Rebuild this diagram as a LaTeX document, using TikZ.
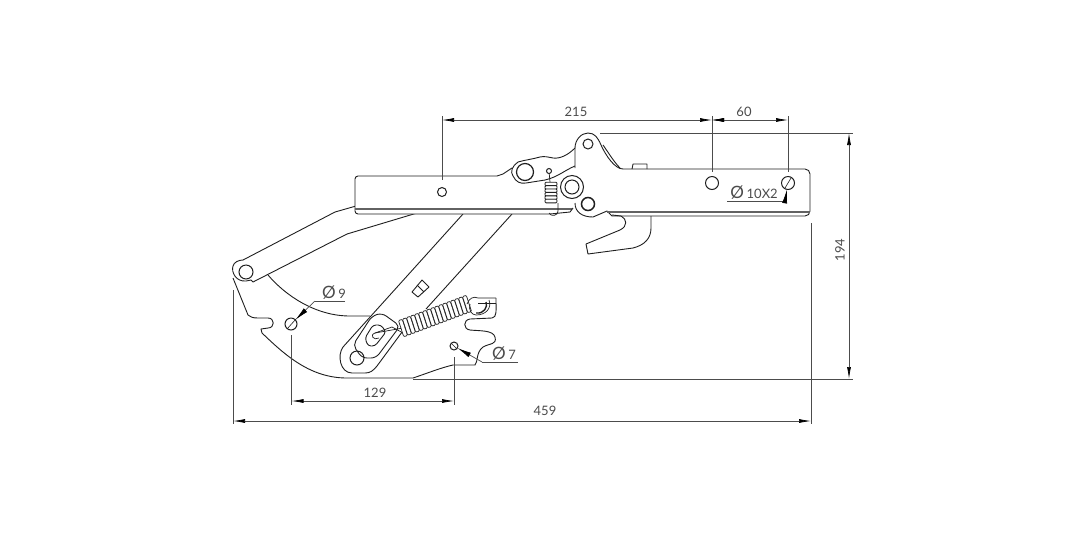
\documentclass[tikz,border=0pt]{standalone}
\usepackage{fontspec}
\setmainfont{Lato}
\usetikzlibrary{arrows.meta,calc}
\definecolor{inkc}{gray}{0.12}
\definecolor{dimc}{gray}{0.3}
\tikzset{
  part/.style={draw=inkc, line width=.9pt, line join=round},
  rail/.style={draw=inkc!70, line width=1.7pt},
  hole/.style={circle, draw=inkc, line width=1pt, inner sep=0pt, outer sep=0pt},
  coil/.style={draw=inkc, fill=white, line width=.7pt, rounded corners=1pt, inner sep=0pt, outer sep=0pt},
  ext/.style={draw=dimc, line width=.7pt},
  dim/.style={ext, {Latex[length=12pt,width=4pt,black]}-{Latex[length=12pt,width=4pt,black]}},
  dimtip/.style={ext, -{Latex[length=12pt,width=4pt,black]}},
  lead/.style={ext, -{Latex[length=14pt,width=5pt,black]}},
  lbl/.style={font=\fontsize{13}{14}\selectfont, text=inkc!80, inner sep=0pt}
}
\newcommand{\phisign}{\fontsize{17}{17}\selectfont Ø\,\fontsize{13}{14}\selectfont}

\begin{document}
\begin{tikzpicture}[x=1pt, y=-1pt]
\useasboundingbox (0,0) rectangle (1075,558);

% lower plate
\draw[part] (233,278) -- (248,315) .. controls (250,317) and (253,318) .. (258,318) -- (268,318)
  .. controls (275,318) and (275,328) .. (268,328) -- (261,329) -- (262,333)
  .. controls (285,355) and (310,378) .. (347,378) -- (413,378)
  .. controls (428,373) and (440,368) .. (453,365) -- (475,365)
  .. controls (478,362) and (476,352) .. (483,347)
  .. controls (490,343) and (497,345) .. (495,337)
  .. controls (493,330) and (480,331) .. (470,330)
  .. controls (463,329) and (463,320) .. (470,319) -- (492,318)
  .. controls (497,317) and (496,312) .. (496,298);
\draw[part] (268,275) .. controls (285,295) and (315,316) .. (350,316) -- (370,316);

% upper arm
\draw[part] (356,206) -- (335,212) -- (243,260);
\draw[part] (417,213) -- (347,234) -- (253,282) -- (251,280) -- (246,281) .. controls (236,282) and (231,272) .. (233,266) .. controls (234,262) and (239,260) .. (243,260);
\node[hole, minimum size=14pt] (armpin) at (246,272) {};

% long link
\draw[part] (463,214) -- (343,347) .. controls (337,355) and (340,373) .. (352,373) -- (365,373) .. controls (370,373) and (373,371) .. (377,366) -- (405,328);
\draw[part] (512,214) -- (426,309);
\node[hole, minimum size=14pt] (linkpin) at (357,358) {};
\draw[part, rounded corners=5pt] (382,313) -- (400,326) -- (376,358) -- (362,358) -- (353,345) -- (372,316) -- cycle;
\draw[part, rounded corners=3pt] (373,325) -- (381,325) -- (386,332) -- (375,346) -- (368,346) -- (365,338) -- cycle;
\draw[part, fill=white] (412,292) -- (422,280) -- (429,287) -- (418,297) -- cycle;
\draw[part] (417,285) -- (424,292);

% left bar
\draw[part, fill=white, rounded corners=3pt] (497,176) -- (355,176) -- (355,214) -- (550,214);
\draw[rail] (355,209) -- (572,209);
\draw[part] (497,176) -- (503,174) -- (512,168);
\draw[part] (550,214) -- (570,212) -- (573,208);
\node[hole, minimum size=9pt] (h215) at (442,192) {};

% lobe at the joint
\draw[part] (575,148) .. controls (568,155) and (560,159) .. (553,158) .. controls (548,157) and (544,156) .. (540,157)
  .. controls (533,159) and (525,160) .. (518,162) .. controls (512,166) and (510,172) .. (513,176)
  .. controls (516,182) and (520,184) .. (526,183) -- (545,180) .. controls (558,177) and (565,170) .. (575,166);
\node[hole, minimum size=17pt, line width=1.2pt] (lobepin) at (525,172) {};
\node[hole, minimum size=5pt] (sprpin) at (549,171) {};

% small spring
\draw[part, line width=.7pt] (sprpin) -- (550,182);
\foreach \i in {0,...,5}
  \node[coil, minimum width=12pt, minimum height=3.6pt, line width=.9pt] (sc\i) at (551,184+\i*3.4) {};
\draw[part, line width=.7pt] (558,203) -- (558,211) .. controls (558,216) and (551,217) .. (549,213);

% right plate
\draw[part] (575,168) -- (575,148) .. controls (575,140) and (581,133) .. (588,133)
  .. controls (595,133) and (598,138) .. (601,145) .. controls (606,156) and (615,169) .. (623,169);
\draw[part] (603,145) .. controls (608,152) and (614,162) .. (620,168);
\draw[part] (575,203) .. controls (575,212) and (582,217) .. (593,217) -- (607,211) -- (612,216);
\node[hole, minimum size=23pt, fill=white] (midring) at (572,187) {};
\node[hole, minimum size=14pt] (midpin) at (572,187) {};
\node[hole, minimum size=10pt] (toppin) at (588,144) {};
\node[hole, minimum size=13pt, line width=1.5pt] (lowpin) at (588,204) {};

% right bar
\draw[part, rounded corners=5pt] (623,169) -- (810,169) -- (810,216) -- (612,216);
\draw[rail] (607,212) -- (810,212);
\draw[part] (632,169) -- (633,164) -- (647,164) -- (647,169);
\node[hole, minimum size=13pt] (h60a) at (712,183) {};
\node[hole, minimum size=13pt] (h60b) at (788,183) {};

% hook
\draw[part] (612,215) -- (621,216) .. controls (627,219) and (628,226) .. (620,230) -- (586,244) -- (588,254) -- (633,248)
  .. controls (645,245) and (651,238) .. (651,228) -- (651,216);

% big spring
\coordinate (sprA) at (403,328);
\coordinate (sprB) at (467,304);
\draw[part, line width=.7pt] (sprA) -- (375,333) .. controls (369,335) and (374,341) .. (379,338);
\draw[part, line width=.7pt] (405,334) -- (392,327) -- (375,333);
\foreach \i in {0,...,16}
  \node[coil, minimum width=4pt, minimum height=17pt, rotate=18] (bc\i) at ($(sprA)!\i/16!(sprB)$) {};
\draw[part, line width=.7pt] (sprB) .. controls (469,298) and (474,296) .. (478,298) -- (496,298);
\draw[part, line width=.7pt] (478,303) -- (496,303);
\draw[part, line width=1.4pt] (486,302) .. controls (488,307) and (484,314) .. (476,313);
\draw[part, line width=.7pt] (470,304) .. controls (468,310) and (472,315) .. (476,315) .. controls (486,315) and (492,308) .. (489,300);

% holes on the plate
\node[hole, minimum size=12pt] (h9) at (291,324) {};
\node[hole, minimum size=8pt] (h7) at (454,346) {};
\draw[part, line width=.6pt] (287,329) -- (296,319);
\draw[part, line width=.6pt] (451,343) -- (457,349);
\draw[part, line width=.6pt] (785,188) -- (791,178);

% dimensions
\coordinate (d215a) at (442,120);
\coordinate (d215b) at (712,120);
\coordinate (d60b) at (788,120);
\coordinate (d129a) at (291.5,401);
\coordinate (d129b) at (454,401);
\coordinate (d459a) at (233,421);
\coordinate (d459b) at (811,421);
\coordinate (d194a) at (849,133);
\coordinate (d194b) at (849,379);

\draw[ext] (442,116) -- (442,180);
\draw[ext] (712,116) -- (712,172);
\draw[ext] (788,116) -- (788,172);
\draw[ext] (291.5,335) -- (291.5,405);
\draw[ext] (454,357) -- (454,405);
\draw[ext] (233,290) -- (233,424);
\draw[ext] (811,223) -- (811,424);
\draw[ext] (600,133) -- (853,133);
\draw[ext] (413,379) -- (853,379);

\draw[dim] (d215a) -- (d215b);
\draw[dimtip] (725,120) -- (d215b);
\draw[dim] (d215b) -- (d60b);
\draw[dim] (d129a) -- (d129b);
\draw[dim] (d459a) -- (d459b);
\draw[dim] (d194a) -- (d194b);

\node[lbl] (t215) at (576,112) {215};
\node[lbl] (t60) at (744,112) {60};
\node[lbl] (t129) at (375,393) {129};
\node[lbl] (t459) at (545,411) {459};
\node[lbl, rotate=90] (t194) at (840,250) {194};

% diameter callouts
\coordinate (l9a) at (345,301);
\coordinate (l9b) at (315,301);
\draw[ext] (l9a) -- (l9b);
\draw[lead] (l9b) -- (h9);
\node[lbl] (t9) at (334,293) {\phisign 9};

\coordinate (l7a) at (518,362);
\coordinate (l7b) at (482,362);
\draw[ext] (l7a) -- (l7b);
\draw[lead] (l7b) -- (h7);
\node[lbl] (t7) at (504,354) {\phisign 7};

\coordinate (l10a) at (727,201);
\coordinate (l10b) at (785,201);
\draw[ext] (l10a) -- (l10b);
\draw[lead] (l10b) -- (h60b);
\node[lbl] (t10) at (754,193) {\phisign 10X2};
\end{tikzpicture}
\end{document}
